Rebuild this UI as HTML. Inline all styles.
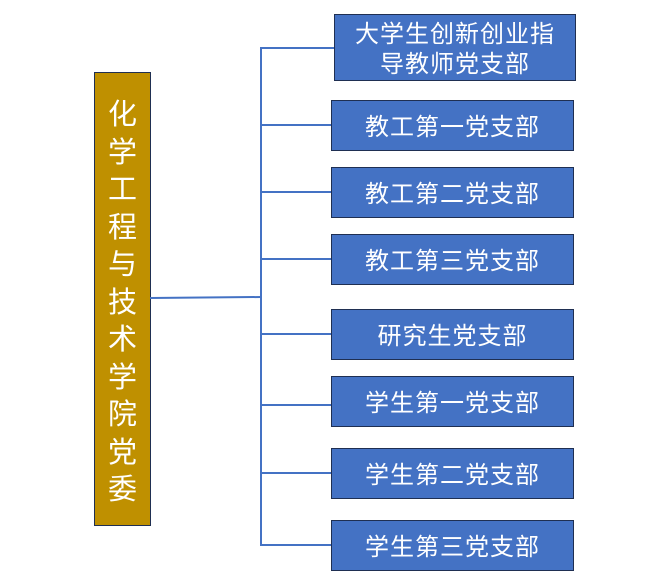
<!DOCTYPE html>
<html><head><meta charset="utf-8"><style>
body{margin:0;width:672px;height:586px;background:#fff;position:relative;overflow:hidden;font-family:"Liberation Sans","Noto Sans CJK SC",sans-serif;}
.b{position:absolute;background:#4472c4;border:1.5px solid #1f2f52;box-sizing:border-box;color:#fff;font-size:24px;display:flex;align-items:center;justify-content:center;text-align:center;line-height:30px;letter-spacing:1px;padding-top:4px}
.l{position:absolute;background:#4472c4}
#root{position:absolute;left:94px;top:72px;width:57px;height:454px;background:#bf9000;border:1.5px solid #1f2f52;box-sizing:border-box;color:#fff;font-size:29px;line-height:37.5px;text-align:center;padding-top:24px}
</style></head><body>
<div id="root">化<br>学<br>工<br>程<br>与<br>技<br>术<br>学<br>院<br>党<br>委</div>
<svg style="position:absolute;left:0;top:0" width="672" height="586"><line x1="150" y1="298" x2="261" y2="297" stroke="#4472c4" stroke-width="2"/></svg>
<div class="l" style="left:260px;top:47px;width:2px;height:499px"></div>
<div class="l" style="left:260px;top:47px;width:75px;height:2px"></div>
<div class="l" style="left:260px;top:124px;width:72px;height:2px"></div>
<div class="l" style="left:260px;top:191px;width:72px;height:2px"></div>
<div class="l" style="left:260px;top:258px;width:72px;height:2px"></div>
<div class="l" style="left:260px;top:333px;width:72px;height:2px"></div>
<div class="l" style="left:260px;top:404px;width:72px;height:2px"></div>
<div class="l" style="left:260px;top:472px;width:72px;height:2px"></div>
<div class="l" style="left:260px;top:544px;width:72px;height:2px"></div>
<div class="b" style="left:334px;top:14px;width:242px;height:67px">大学生创新创业指<br>导教师党支部</div>
<div class="b" style="left:331px;top:100px;width:243px;height:51px">教工第一党支部</div>
<div class="b" style="left:331px;top:167px;width:243px;height:51px">教工第二党支部</div>
<div class="b" style="left:331px;top:234px;width:243px;height:51px">教工第三党支部</div>
<div class="b" style="left:331px;top:309px;width:243px;height:51px">研究生党支部</div>
<div class="b" style="left:331px;top:376px;width:243px;height:51px">学生第一党支部</div>
<div class="b" style="left:331px;top:448px;width:243px;height:51px">学生第二党支部</div>
<div class="b" style="left:331px;top:520px;width:243px;height:51px">学生第三党支部</div>
</body></html>
